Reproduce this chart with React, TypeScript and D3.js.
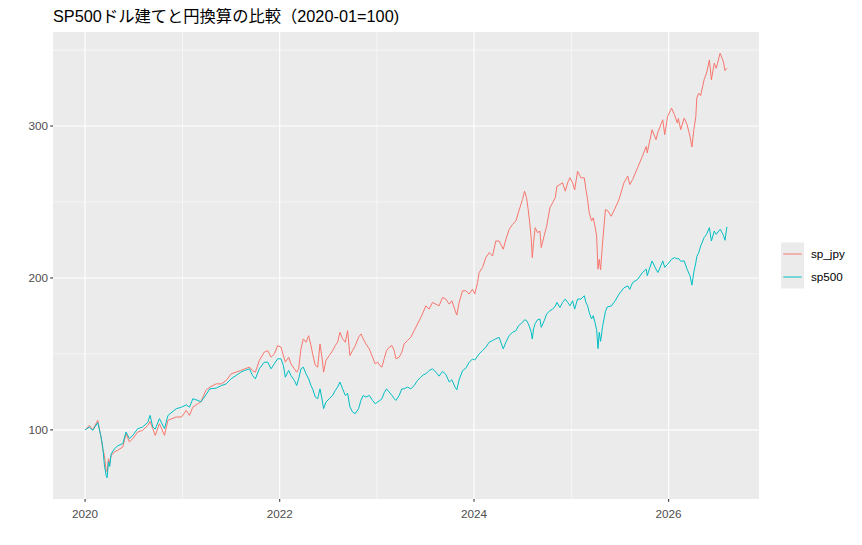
import React from 'react'
import * as d3 from 'd3'

const width = 862
const height = 545
const margin = { top: 32, right: 103, bottom: 46, left: 53 }
const jpyColor = '#F8766D'
const usdColor = '#00BFC4'

const title = 'SP500ドル建てと円換算の比較（2020-01=100)'
const seriesNames = ['sp_jpy', 'sp500']
const yTicks = [100, 200, 300]
const yMinor = [150, 250, 350]
const xTickYears = [2020, 2022, 2024, 2026]
const xMinorYears = [2021, 2023, 2025]

const yearFrac = [
  2020.000, 2020.044, 2020.078, 2020.130, 2020.164, 2020.181, 2020.198, 2020.216,
  2020.226, 2020.240, 2020.253, 2020.267, 2020.300, 2020.335, 2020.387, 2020.420,
  2020.455, 2020.490, 2020.540, 2020.590, 2020.644, 2020.667, 2020.695, 2020.720,
  2020.763, 2020.815, 2020.850, 2020.935, 2020.990, 2021.038, 2021.072, 2021.106,
  2021.157, 2021.190, 2021.240, 2021.280, 2021.347, 2021.400, 2021.450, 2021.500,
  2021.550, 2021.600, 2021.640, 2021.690, 2021.720, 2021.750, 2021.790, 2021.840,
  // 2022 - mid 2023
  2021.877, 2021.911, 2021.945, 2021.979, 2022.014, 2022.038, 2022.058, 2022.092,
  2022.116, 2022.151, 2022.175, 2022.195, 2022.219, 2022.243, 2022.271, 2022.298,
  2022.322, 2022.339, 2022.367, 2022.391, 2022.415, 2022.435, 2022.452, 2022.476,
  2022.510, 2022.545, 2022.572, 2022.596, 2022.620, 2022.648, 2022.675, 2022.699,
  2022.723, 2022.750, 2022.778, 2022.812, 2022.836, 2022.860, 2022.887, 2022.922,
  2022.956, 2022.983, 2023.007, 2023.031, 2023.052, 2023.076, 2023.100, 2023.127,
  2023.155, 2023.179, 2023.196, 2023.230, 2023.257, 2023.281, 2023.315, 2023.350,
  2023.384, 2023.418, 2023.453, 2023.477, 2023.504, 2023.538, 2023.573, 2023.607,
  2023.641,
  // mid 2023 - 2025/04
  2023.676, 2023.710, 2023.745, 2023.772, 2023.806, 2023.823, 2023.847, 2023.882,
  2023.916, 2023.950, 2023.984, 2024.008, 2024.036, 2024.053, 2024.087, 2024.121,
  2024.156, 2024.190, 2024.224, 2024.258, 2024.300, 2024.327, 2024.361, 2024.395,
  2024.430, 2024.457, 2024.498, 2024.519, 2024.539, 2024.556, 2024.574, 2024.587,
  2024.598, 2024.611, 2024.628, 2024.652, 2024.676, 2024.690, 2024.721, 2024.745,
  2024.779, 2024.807, 2024.834, 2024.851, 2024.882, 2024.909, 2024.937, 2024.961,
  2024.985, 2025.012, 2025.033, 2025.063, 2025.098, 2025.132, 2025.149, 2025.166,
  2025.183, 2025.207, 2025.224, 2025.242, 2025.259, 2025.273, 2025.286,
  // 2025/04 - end
  2025.300, 2025.320, 2025.350, 2025.370, 2025.410, 2025.450, 2025.490, 2025.540,
  2025.580, 2025.600, 2025.630, 2025.680, 2025.730, 2025.770, 2025.780, 2025.830,
  2025.870, 2025.890, 2025.920, 2025.940, 2025.960, 2025.990, 2026.030, 2026.060,
  2026.090, 2026.100, 2026.125, 2026.160, 2026.190, 2026.220, 2026.240, 2026.260,
  2026.280, 2026.290, 2026.310, 2026.330, 2026.365, 2026.390, 2026.420, 2026.440,
  2026.470, 2026.490, 2026.530, 2026.550, 2026.565, 2026.580, 2026.600,
]

const sp500 = [
  100, 101.9, 99.7, 104.8, 95.4, 88.8, 77.0, 70.0,
  68.5, 79.0, 76.0, 84.0, 87.5, 89.5, 91.0, 98.6,
  94.3, 96.4, 100.8, 101.9, 105.0, 109.6, 101.9, 100.5,
  107.4, 100.8, 109.5, 113.9, 115.0, 116.5, 115.0, 120.5,
  119.4, 118.5, 123.0, 127.0, 127.5, 129.2, 130.3, 133.6,
  135.8, 138.0, 139.1, 140.2, 135.8, 133.6, 140.2, 144.5,

  144.6, 140.2, 143.5, 146.8, 146.8, 142.4, 134.7, 139.1,
  135.8, 132.5, 129.2, 133.6, 140.2, 141.3, 136.9, 133.6,
  129.2, 127.0, 121.6, 120.5, 127.0, 120.5, 114.0, 118.3,
  120.5, 122.7, 126.0, 128.2, 131.5, 127.0, 122.7, 124.0,
  115.1, 111.8, 110.7, 114.0, 119.4, 122.7, 121.6, 122.7,
  119.4, 117.2, 118.3, 119.4, 120.5, 124.5, 127.0, 124.9,
  122.7, 120.5, 119.4, 122.7, 127.0, 127.0, 128.2, 127.0,
  129.2, 132.5, 134.7, 136.3, 136.9, 139.1, 140.2, 138.0,
  135.4,

  138.5, 136.5, 131.5, 133.0, 128.0, 126.4, 133.0, 139.0,
  140.6, 144.5, 146.7, 146.0, 148.5, 150.0, 152.2, 154.4,
  157.7, 158.8, 160.0, 160.9, 153.3, 157.7, 162.1, 164.2,
  165.3, 168.6, 170.8, 172.5, 172.0, 170.0, 167.0, 164.2,
  159.8, 166.4, 170.0, 172.5, 173.0, 167.5, 171.9, 176.3,
  178.4, 179.5, 181.5, 183.9, 180.6, 183.9, 186.1, 183.9,
  181.7, 185.0, 179.5, 186.1, 186.1, 188.3, 183.9, 181.7,
  177.3, 173.0, 175.2, 170.8, 166.0, 153.5, 164.2,

  158.3, 168.0, 178.0, 181.0, 181.5, 185.0, 189.4, 193.5,
  194.8, 192.5, 197.0, 199.0, 203.5, 205.8, 201.5, 211.2,
  205.8, 203.6, 208.0, 211.2, 207.0, 209.0, 212.3, 213.4,
  212.5, 213.0, 211.0, 211.2, 205.8, 201.4, 195.3, 204.0,
  210.0, 214.0, 216.7, 221.0, 226.5, 228.7, 233.1, 224.3,
  230.9, 228.7, 232.0, 229.8, 228.0, 224.8, 233.6,
]

const spJpy = [
  100, 103.0, 100.0, 106.3, 95.0, 87.7, 83.3, 73.5,
  72.5, 81.0, 78.0, 83.0, 85.5, 86.6, 88.8, 97.5,
  92.1, 94.3, 98.6, 99.7, 103.0, 105.5, 100.8, 96.4,
  104.1, 96.4, 106.3, 108.5, 108.5, 112.8, 109.6, 115.0,
  117.2, 118.5, 126.0, 128.1, 130.3, 130.3, 132.5, 136.9,
  138.0, 139.1, 140.2, 141.3, 139.1, 138.0, 145.6, 151.1,

  152.2, 147.9, 150.0, 155.5, 154.4, 148.9, 144.6, 147.9,
  143.5, 140.2, 138.0, 140.2, 153.3, 159.9, 157.7, 162.0,
  155.5, 150.0, 142.4, 141.3, 156.6, 147.9, 138.0, 145.7,
  148.9, 152.2, 155.5, 157.7, 164.2, 159.9, 157.7, 165.3,
  148.9, 152.2, 155.5, 161.0, 163.2, 159.9, 156.6, 153.3,
  147.9, 143.5, 144.6, 142.4, 141.3, 147.0, 152.2, 154.4,
  155.5, 152.2, 146.8, 147.9, 151.1, 156.6, 158.8, 161.0,
  165.3, 169.7, 174.1, 177.4, 181.7, 179.5, 183.9, 182.8,
  181.7,

  187.2, 186.1, 182.8, 185.0, 178.4, 175.6, 183.9, 191.6,
  191.6, 189.4, 192.6, 189.4, 197.0, 203.6, 206.9, 213.4,
  216.7, 214.5, 224.3, 224.3, 218.9, 225.4, 232.0, 235.3,
  237.5, 243.5, 251.7, 257.1, 252.8, 245.1, 235.0, 226.0,
  213.4, 223.3, 233.1, 229.8, 230.9, 220.0, 228.0, 234.0,
  246.2, 249.5, 252.8, 260.4, 261.5, 262.6, 257.1, 262.6,
  266.0, 262.6, 258.0, 270.2, 265.9, 265.9, 258.2, 251.7,
  242.9, 237.5, 239.6, 234.2, 227.6, 205.8, 212.3,

  205.4, 223.0, 245.0, 244.5, 240.6, 246.0, 251.7, 262.6,
  267.0, 261.5, 264.8, 272.4, 280.1, 286.6, 282.3, 297.6,
  291.0, 296.0, 300.9, 304.1, 294.3, 306.3, 311.8, 307.4,
  302.0, 305.0, 297.6, 305.2, 300.9, 293.2, 286.2, 297.6,
  306.3, 318.4, 321.6, 320.0, 330.4, 334.8, 343.5, 330.4,
  341.3, 338.0, 347.9, 344.6, 342.0, 336.5, 338.0,
]

type Pt = { date: Date; value: number }

const fracToDate = (t: number) => {
  const yr = Math.floor(t)
  const a = +new Date(yr, 0, 1)
  const b = +new Date(yr + 1, 0, 1)
  return new Date(a + (t - yr) * (b - a))
}

const App = () => {
  const dts = yearFrac.map(fracToDate)
  const series: Pt[][] = [
    dts.map((date, i) => ({ date, value: spJpy[i] })),
    dts.map((date, i) => ({ date, value: sp500[i] })),
  ]
  const colors = [jpyColor, usdColor]

  // ggplot-style 5% expansion
  const [t0, t1] = d3.extent(dts) as [Date, Date]
  const tPad = (+t1 - +t0) * 0.05
  const allValues = [...sp500, ...spJpy]
  const vMin = d3.min(allValues) as number
  const vMax = d3.max(allValues) as number
  const vPad = (vMax - vMin) * 0.05

  const x = d3
    .scaleTime()
    .domain([new Date(+t0 - tPad), new Date(+t1 + tPad)])
    .range([margin.left, width - margin.right])
  const y = d3
    .scaleLinear()
    .domain([vMin - vPad, vMax + vPad])
    .range([height - margin.bottom, margin.top])

  const line = d3
    .line<Pt>()
    .x(d => x(d.date))
    .y(d => y(d.value))

  const yearDate = (yr: number) => new Date(yr, 0, 1)
  const panelW = width - margin.left - margin.right
  const panelH = height - margin.top - margin.bottom
  const font = "'Liberation Sans', Arial, 'Noto Sans CJK JP', sans-serif"

  const legendX = 781
  const keyH = 23
  const legendY = margin.top + panelH / 2 - keyH

  return (
    <svg
      width={width}
      height={height}
      style={{ position: 'absolute', left: 0, top: 0, background: '#fff' }}
      fontFamily={font}
    >
      <rect x={0} y={0} width={width} height={height} fill="#fff" />
      <text x={53} y={22} fontSize={16.3} fill="#000">{title}</text>

      <rect x={margin.left} y={margin.top} width={panelW} height={panelH} fill="#EBEBEB" />
      {yMinor.filter(v => y(v) > margin.top).map(v => (
        <line key={'ym' + v} x1={margin.left} x2={margin.left + panelW} y1={y(v)} y2={y(v)} stroke="#fff" strokeWidth={0.55} />
      ))}
      {xMinorYears.map(yr => (
        <line key={'xm' + yr} x1={x(yearDate(yr))} x2={x(yearDate(yr))} y1={margin.top} y2={margin.top + panelH} stroke="#fff" strokeWidth={0.55} />
      ))}
      {yTicks.map(v => (
        <line key={'yg' + v} x1={margin.left} x2={margin.left + panelW} y1={y(v)} y2={y(v)} stroke="#fff" strokeWidth={1.1} />
      ))}
      {xTickYears.map(yr => (
        <line key={'xg' + yr} x1={x(yearDate(yr))} x2={x(yearDate(yr))} y1={margin.top} y2={margin.top + panelH} stroke="#fff" strokeWidth={1.1} />
      ))}

      {series.map((s, i) => (
        <path key={seriesNames[i]} d={line(s) as string} fill="none" stroke={colors[i]} strokeWidth={1} strokeLinejoin="round" />
      ))}

      {yTicks.map(v => (
        <g key={'yt' + v}>
          <line x1={margin.left - 2.8} x2={margin.left} y1={y(v)} y2={y(v)} stroke="#333" strokeWidth={1.1} />
          <text x={margin.left - 5} y={y(v)} dy="0.35em" textAnchor="end" fontSize={11.7} fill="#4D4D4D">{v}</text>
        </g>
      ))}
      {xTickYears.map(yr => (
        <g key={'xt' + yr}>
          <line x1={x(yearDate(yr))} x2={x(yearDate(yr))} y1={margin.top + panelH} y2={margin.top + panelH + 2.8} stroke="#333" strokeWidth={1.1} />
          <text x={x(yearDate(yr))} y={517.5} textAnchor="middle" fontSize={11.7} fill="#4D4D4D">{yr}</text>
        </g>
      ))}

      <rect x={legendX} y={legendY} width={23} height={keyH * 2} fill="#EBEBEB" />
      {seriesNames.map((name, i) => (
        <g key={'lg' + name}>
          <line x1={legendX + 2.3} x2={legendX + 20.7} y1={legendY + keyH * i + keyH / 2} y2={legendY + keyH * i + keyH / 2} stroke={colors[i]} strokeWidth={1} />
          <text x={811} y={legendY + keyH * i + keyH / 2} dy="0.35em" fontSize={11.7} fill="#000">{name}</text>
        </g>
      ))}
    </svg>
  )
}

export default App
